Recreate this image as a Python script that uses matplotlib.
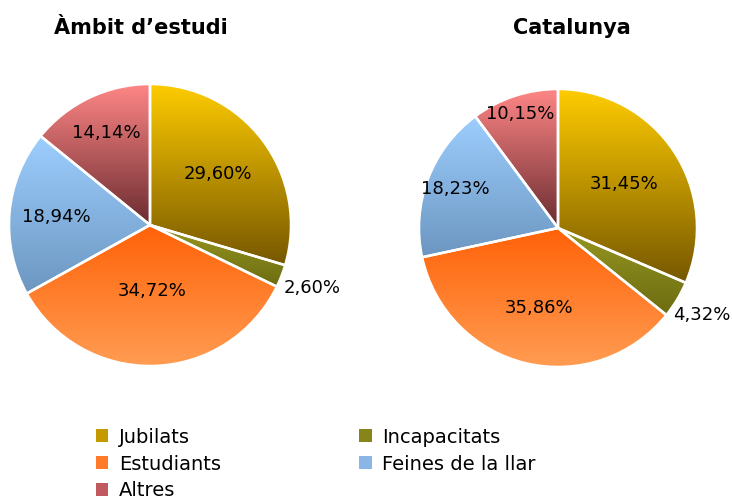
import matplotlib
matplotlib.use('Agg')
import numpy as np
import matplotlib.pyplot as plt
from matplotlib.colors import LinearSegmentedColormap
from matplotlib.patches import Rectangle

# dades
categories = ['Jubilats', 'Incapacitats', 'Estudiants', 'Feines de la llar', 'Altres']
ambit_vals = [29.60, 2.60, 34.72, 18.94, 14.14]
catalunya_vals = [31.45, 4.32, 35.86, 18.23, 10.15]
titles = ['Àmbit d\u2019estudi', 'Catalunya']

# colors del degradat (dalt, baix)
grad_top = ['#FFCC00', '#979722', '#FF6208', '#9DCEFF', '#FF8686']
grad_bot = ['#765700', '#6C6C12', '#FF9C52', '#6C96C0', '#6A2C30']
legend_cols = ['#C49A00', '#858519', '#FF7A2A', '#8AB6E6', '#C05A5E']

# distancia de les etiquetes (fraccio del radi)
ambit_lbl_r = [0.60, 1.23, 0.47, 0.67, 0.72]
catalunya_lbl_r = [0.57, 1.21, 0.59, 0.79, 0.86]

W, H = 732, 500
fig = plt.figure(figsize=(W / 100, H / 100), dpi=100)


def draw_pie(cx, cy, rad, vals, lbl_r):
    lim = 1.3
    side = 2 * lim * rad
    ax = fig.add_axes([(cx - side / 2) / W, (H - cy - side / 2) / H, side / W, side / H])
    wedges, _ = ax.pie(vals, startangle=90, counterclock=False,
                       wedgeprops=dict(edgecolor='white', linewidth=1.8, facecolor='none'))
    grad = np.linspace(0, 1, 256).reshape(-1, 1)
    for i, w in enumerate(wedges):
        ext = w.get_path().get_extents()
        cmap = LinearSegmentedColormap.from_list('g%d' % i, [grad_bot[i], grad_top[i]])
        im = ax.imshow(grad, cmap=cmap, origin='lower', aspect='auto',
                       extent=[ext.x0, ext.x1, ext.y0, ext.y1], zorder=1)
        im.set_clip_path(w)
        w.set_zorder(2)
        ang = np.deg2rad((w.theta1 + w.theta2) / 2)
        r = lbl_r[i]
        txt = ('%.2f%%' % vals[i]).replace('.', ',')
        ax.text(r * np.cos(ang), r * np.sin(ang), txt,
                ha='center', va='center', fontsize=13, color='black', zorder=3)
    ax.set_xlim(-lim, lim)
    ax.set_ylim(-lim, lim)
    ax.set_aspect('equal')
    ax.axis('off')
    return ax


draw_pie(150, 225, 141, ambit_vals, ambit_lbl_r)
draw_pie(558, 228, 139, catalunya_vals, catalunya_lbl_r)

fig.text(141 / W, 1 - 28 / H, titles[0], ha='center', va='center',
         fontsize=15, fontweight='bold')
fig.text(572 / W, 1 - 28 / H, titles[1], ha='center', va='center',
         fontsize=15, fontweight='bold')

# llegenda per files (2 columnes)
order = [0, 2, 4, 1, 3]
handles = [Rectangle((0, 0), 1, 1, facecolor=legend_cols[i], edgecolor='none') for i in order]
labels = [categories[i] for i in order]
fig.legend(handles, labels, ncol=2, loc='upper left',
           bbox_to_anchor=(88 / W, 1 - 420 / H), frameon=False, fontsize=14,
           handlelength=0.65, handleheight=0.65, handletextpad=0.55,
           columnspacing=7.1, labelspacing=0.4, borderaxespad=0)

fig.savefig('out.png', dpi=100)
